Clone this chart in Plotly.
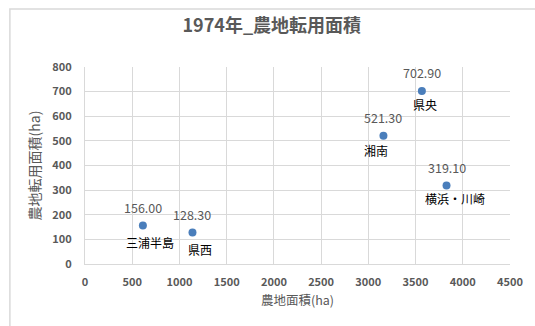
import plotly.graph_objects as go

regions = ["三浦半島", "県西", "湘南", "県央", "横浜・川崎"]
farm_area = [613, 1138, 3160, 3567, 3828]
converted_area = [156.00, 128.30, 521.30, 702.90, 319.10]

x_ticks = [0, 500, 1000, 1500, 2000, 2500, 3000, 3500, 4000, 4500]
y_ticks = [0, 100, 200, 300, 400, 500, 600, 700, 800]

# label nudges (pixels) for category-name labels
name_shift = {"三浦半島": (7, -17), "県西": (8, -17), "湘南": (-7, -15), "県央": (3, -14), "横浜・川崎": (8, -13)}

FONT = "Noto Sans CJK JP"
GRID = "#d9d9d9"
TXT = "#595959"

fig = go.Figure()
fig.add_trace(go.Scatter(
    x=farm_area, y=converted_area, mode="markers",
    marker=dict(color="#4a7ebb", size=8),
    hoverinfo="skip", showlegend=False,
))

for r, xv, yv in zip(regions, farm_area, converted_area):
    fig.add_annotation(x=xv, y=yv, text=f"{yv:.2f}", showarrow=False, yshift=18,
                       font=dict(family=FONT, size=12.5, color=TXT))
    dx, dy = name_shift[r]
    fig.add_annotation(x=xv, y=yv, text=r, showarrow=False, xshift=dx, yshift=dy,
                       font=dict(family=FONT, size=12, color="#000000"))

# chart outer border (top/left visible)
fig.add_shape(type="rect", xref="paper", yref="paper",
              x0=(9 - 85) / 430, x1=(560 - 85) / 430,
              y0=(264 - 360) / 197, y1=(264 - 9) / 197,
              line=dict(color=GRID, width=1.5), layer="below")

fig.update_layout(
    width=535, height=326,
    margin=dict(l=85, r=20, t=67, b=62),
    paper_bgcolor="white", plot_bgcolor="white",
    font=dict(family=FONT, color=TXT),
    title=dict(text="<b>1974年_農地転用面積</b>", x=0.508, xanchor="center",
               y=1 - 26 / 326, yanchor="middle",
               font=dict(family=FONT, size=18, color=TXT)),
    xaxis=dict(range=[0, 4500], tickvals=x_ticks, ticktext=[f"<b>{v}</b>" for v in x_ticks],
               showgrid=True, gridcolor=GRID, gridwidth=1, zeroline=False,
               showline=True, linecolor=GRID, mirror=False,
               ticks="", ticklabelstandoff=8,
               tickfont=dict(family=FONT, size=11, color=TXT),
               title=dict(text="農地面積(ha)", font=dict(family=FONT, size=12.5, color=TXT), standoff=8)),
    yaxis=dict(range=[0, 800], tickvals=y_ticks, ticktext=[f"<b>{v}</b>" for v in y_ticks],
               showgrid=True, gridcolor=GRID, gridwidth=1, zeroline=False,
               showline=True, linecolor=GRID,
               ticks="", ticklabelstandoff=10,
               tickfont=dict(family=FONT, size=11, color=TXT),
               title=dict(text="農地転用面積(ha)", font=dict(family=FONT, size=14, color=TXT), standoff=8)),
)

fig.write_html("out.html")
